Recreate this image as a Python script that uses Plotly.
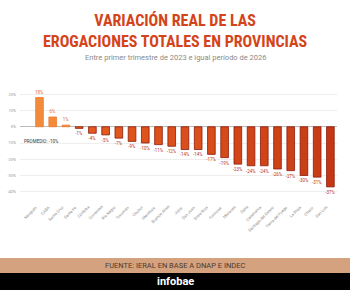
import plotly.graph_objects as go

provincias = ["Neuquén", "CABA", "Santa Cruz", "Santa Fe", "Córdoba", "Corrientes", "Río Negro",
              "Tucumán", "Chubut", "Mendoza", "Buenos Aires", "Jujuy", "San Juan", "Entre Ríos",
              "Formosa", "Misiones", "Salta", "Catamarca", "Santiago del Estero", "Tierra del Fuego",
              "La Rioja", "Chaco", "San Luis"]
variacion = [18, 6, 1, -1, -4, -5, -7, -9, -10, -11, -12, -14, -14, -17, -19, -23, -24, -24,
             -26, -27, -30, -31, -37]
tick_vals = [20, 10, 0, -10, -20, -30, -40]
tick_text = ["20%", "10%", "0%", "-10%", "-20%", "-30%", "-40%"]
promedio_text = "PROMEDIO: -10%"

W, H = 350, 290
L, R, T, B = 20, 13, 91, 95
pw, ph = W - L - R, H - T - B

def px(x):
    return (x - L) / pw

def py(y):
    return (H - B - y) / ph

def color(v):
    if v > 0:
        return "#F28C3C"
    t = min(1.0, -v / 40)
    r1, g1, b1 = (0xE8, 0x5E, 0x1E)
    r2, g2, b2 = (0xC0, 0x34, 0x14)
    return "rgb(%d,%d,%d)" % (r1 + (r2 - r1) * t, g1 + (g2 - g1) * t, b1 + (b2 - b1) * t)

colors = [color(v) for v in variacion]
lines = ["#F07A2A" if v > 0 else "#8E1B0C" for v in variacion]
labels = [f"{v}%" for v in variacion]

fig = go.Figure()
fig.add_trace(go.Bar(
    x=provincias, y=variacion,
    marker=dict(color=colors, line=dict(color=lines, width=0.8)),
    text=labels, textposition="outside", cliponaxis=False,
    textfont=dict(size=4.5, color=["#E8682A" if v > 0 else "#B8321A" for v in variacion],
                  family="Roboto"),
))

fig.update_layout(
    template="none",
    width=W, height=H,
    margin=dict(l=L, r=R, t=T, b=B, autoexpand=False),
    plot_bgcolor="white", paper_bgcolor="white",
    bargap=0.42, showlegend=False,
    font=dict(family="Roboto"),
    xaxis=dict(showticklabels=False, showgrid=False, ticks="", showline=False, automargin=False),
    yaxis=dict(range=[-42, 22], tickvals=tick_vals, ticktext=tick_text,
               tickfont=dict(size=4, color="#999"), showgrid=True, gridcolor="#EEEEEE",
               gridwidth=0.6, zeroline=True, zerolinecolor="#BBBBBB", zerolinewidth=1,
               ticks="", ticklabelstandoff=3, automargin=False, showline=False),
    uniformtext=dict(minsize=4, mode="show"),
)

for p in provincias:
    fig.add_annotation(x=p, xref="x", yref="paper", y=py(202), text=p, showarrow=False,
                       textangle=-45, xanchor="right", yanchor="top", xshift=1,
                       font=dict(size=4, color="#888"))

fig.add_annotation(xref="paper", yref="paper", x=px(175), y=py(31), showarrow=False,
                   text="<b>VARIACIÓN REAL DE LAS<br>EROGACIONES TOTALES EN PROVINCIAS</b>",
                   font=dict(family="Roboto Condensed, Liberation Sans Narrow, DejaVu Sans Condensed, Roboto",
                             size=16, color="#D4441A"),
                   align="center", xanchor="center", yanchor="middle")
fig.add_annotation(xref="paper", yref="paper", x=px(175), y=py(57), showarrow=False,
                   text="Entre primer trimestre de 2023 e igual período de 2026",
                   font=dict(size=7.5, color="#8A8A8A"), xanchor="center", yanchor="middle")
fig.add_annotation(xref="paper", yref="paper", x=px(22), y=py(141), showarrow=False,
                   text=promedio_text, font=dict(size=4.5, color="#333"),
                   xanchor="left", yanchor="middle")

fig.add_shape(type="rect", xref="paper", yref="paper", x0=px(0), x1=px(W), y0=py(273), y1=py(258),
              fillcolor="#D4A27F", line_width=0, layer="below")
fig.add_shape(type="rect", xref="paper", yref="paper", x0=px(0), x1=px(W), y0=py(291), y1=py(273),
              fillcolor="#000000", line_width=0, layer="below")
fig.add_annotation(xref="paper", yref="paper", x=px(175), y=py(265.5), showarrow=False,
                   text="FUENTE: IERAL EN BASE A DNAP E INDEC",
                   font=dict(size=7.5, color="#4A3A30"), xanchor="center", yanchor="middle")
fig.add_annotation(xref="paper", yref="paper", x=px(175), y=py(281.5), showarrow=False,
                   text="<b>infobae</b>", font=dict(size=11, color="white"),
                   xanchor="center", yanchor="middle")

fig.write_html("out.html")
